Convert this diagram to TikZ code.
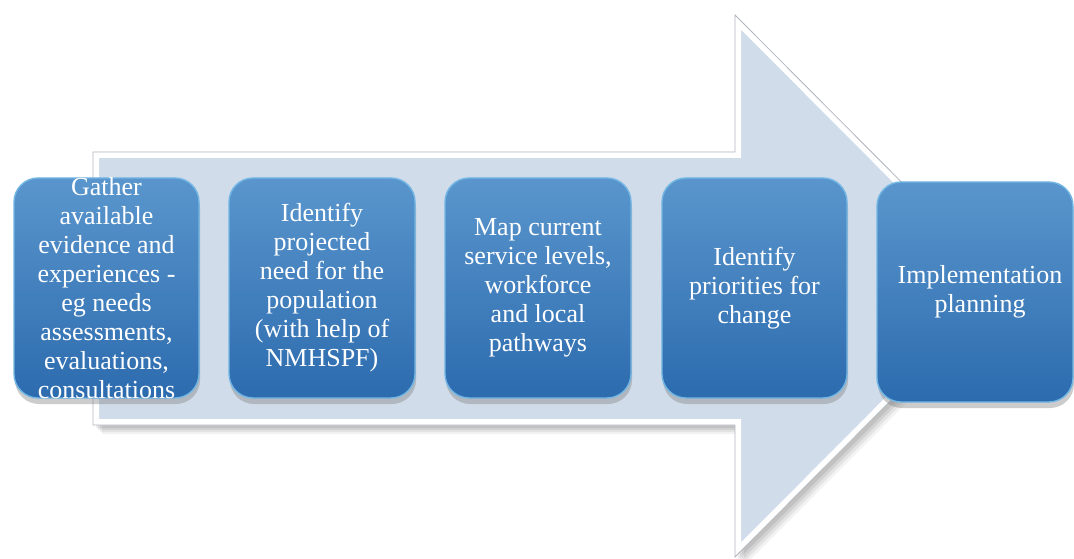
\documentclass[tikz,border=0pt]{standalone}
\usepackage{fontspec}
\setmainfont{Liberation Serif}
\usetikzlibrary{shadows}
\definecolor{arrowfill}{HTML}{D0DCEA}
\definecolor{arrowline}{HTML}{B4B8BE}
\definecolor{boxtop}{HTML}{5A96CD}
\definecolor{boxbot}{HTML}{2C6BAE}
\definecolor{boxedge}{HTML}{72B6E4}
\begin{document}
\begin{tikzpicture}[x=1pt,y=-1pt,
  stepbox/.style={rounded corners=24pt, top color=boxtop, bottom color=boxbot,
    draw=boxedge, line width=1.4pt,
    drop shadow={shadow xshift=1pt, shadow yshift=-6pt, opacity=0.4}},
  boxtext/.style={text=white, align=center, inner sep=0pt,
    font=\fontsize{26}{29}\selectfont}]
\useasboundingbox (0,0) rectangle (1074,559);
\fill[white] (0,0) rectangle (1074,559);
% arrow shadow
\foreach \s/\o in {9/0.05,7/0.06,5/0.07,3/0.08}{
  \fill[black, opacity=\o, xshift=\s pt, yshift=-\s pt]
    (93,152) -- (735,152) -- (735,15) -- (1005,286) -- (735,557) -- (735,425) -- (93,425) -- cycle;
}
% arrow
\fill[white] (93,152) -- (735,152) -- (735,15) -- (1005,286) -- (735,557) -- (735,425) -- (93,425) -- cycle;
\begin{scope}
  \clip (93,152) -- (735,152) -- (735,15) -- (1005,286) -- (735,557) -- (735,425) -- (93,425) -- cycle;
  \fill[arrowfill] (93,152) -- (735,152) -- (735,15) -- (1005,286) -- (735,557) -- (735,425) -- (93,425) -- cycle;
  \draw[white, line width=12pt, line join=miter]
    (93,152) -- (735,152) -- (735,15) -- (1005,286) -- (735,557) -- (735,425) -- (93,425) -- cycle;
\end{scope}
\draw[arrowline, line width=0.8pt]
  (93,152) -- (735,152) -- (735,15) -- (1005,286) -- (735,557) -- (735,425) -- (93,425) -- cycle;
% boxes
\node[stepbox, minimum width=185pt, minimum height=220pt] (b1) at (106.5,288) {};
\node[stepbox, minimum width=186pt, minimum height=220pt] (b2) at (322,288) {};
\node[stepbox, minimum width=186pt, minimum height=220pt] (b3) at (538,288) {};
\node[stepbox, minimum width=185pt, minimum height=220pt] (b4) at (754.5,288) {};
\node[stepbox, minimum width=196pt, minimum height=220pt] (b5) at (975,292) {};
% texts
\node[boxtext] (t1) at (b1.center) {Gather\\available\\evidence and\\experiences -\\eg needs\\assessments,\\evaluations,\\consultations};
\node[boxtext] (t2) at (b2.center) {Identify\\projected\\need for the\\population\\(with help of\\NMHSPF)};
\node[boxtext] (t3) at (b3.center) {Map current\\service levels,\\workforce\\and local\\pathways};
\node[boxtext] (t4) at (b4.center) {Identify\\priorities for\\change};
\node[boxtext] (t5) at ([xshift=5pt]b5.center) {Implementation\\planning};
\end{tikzpicture}
\end{document}
